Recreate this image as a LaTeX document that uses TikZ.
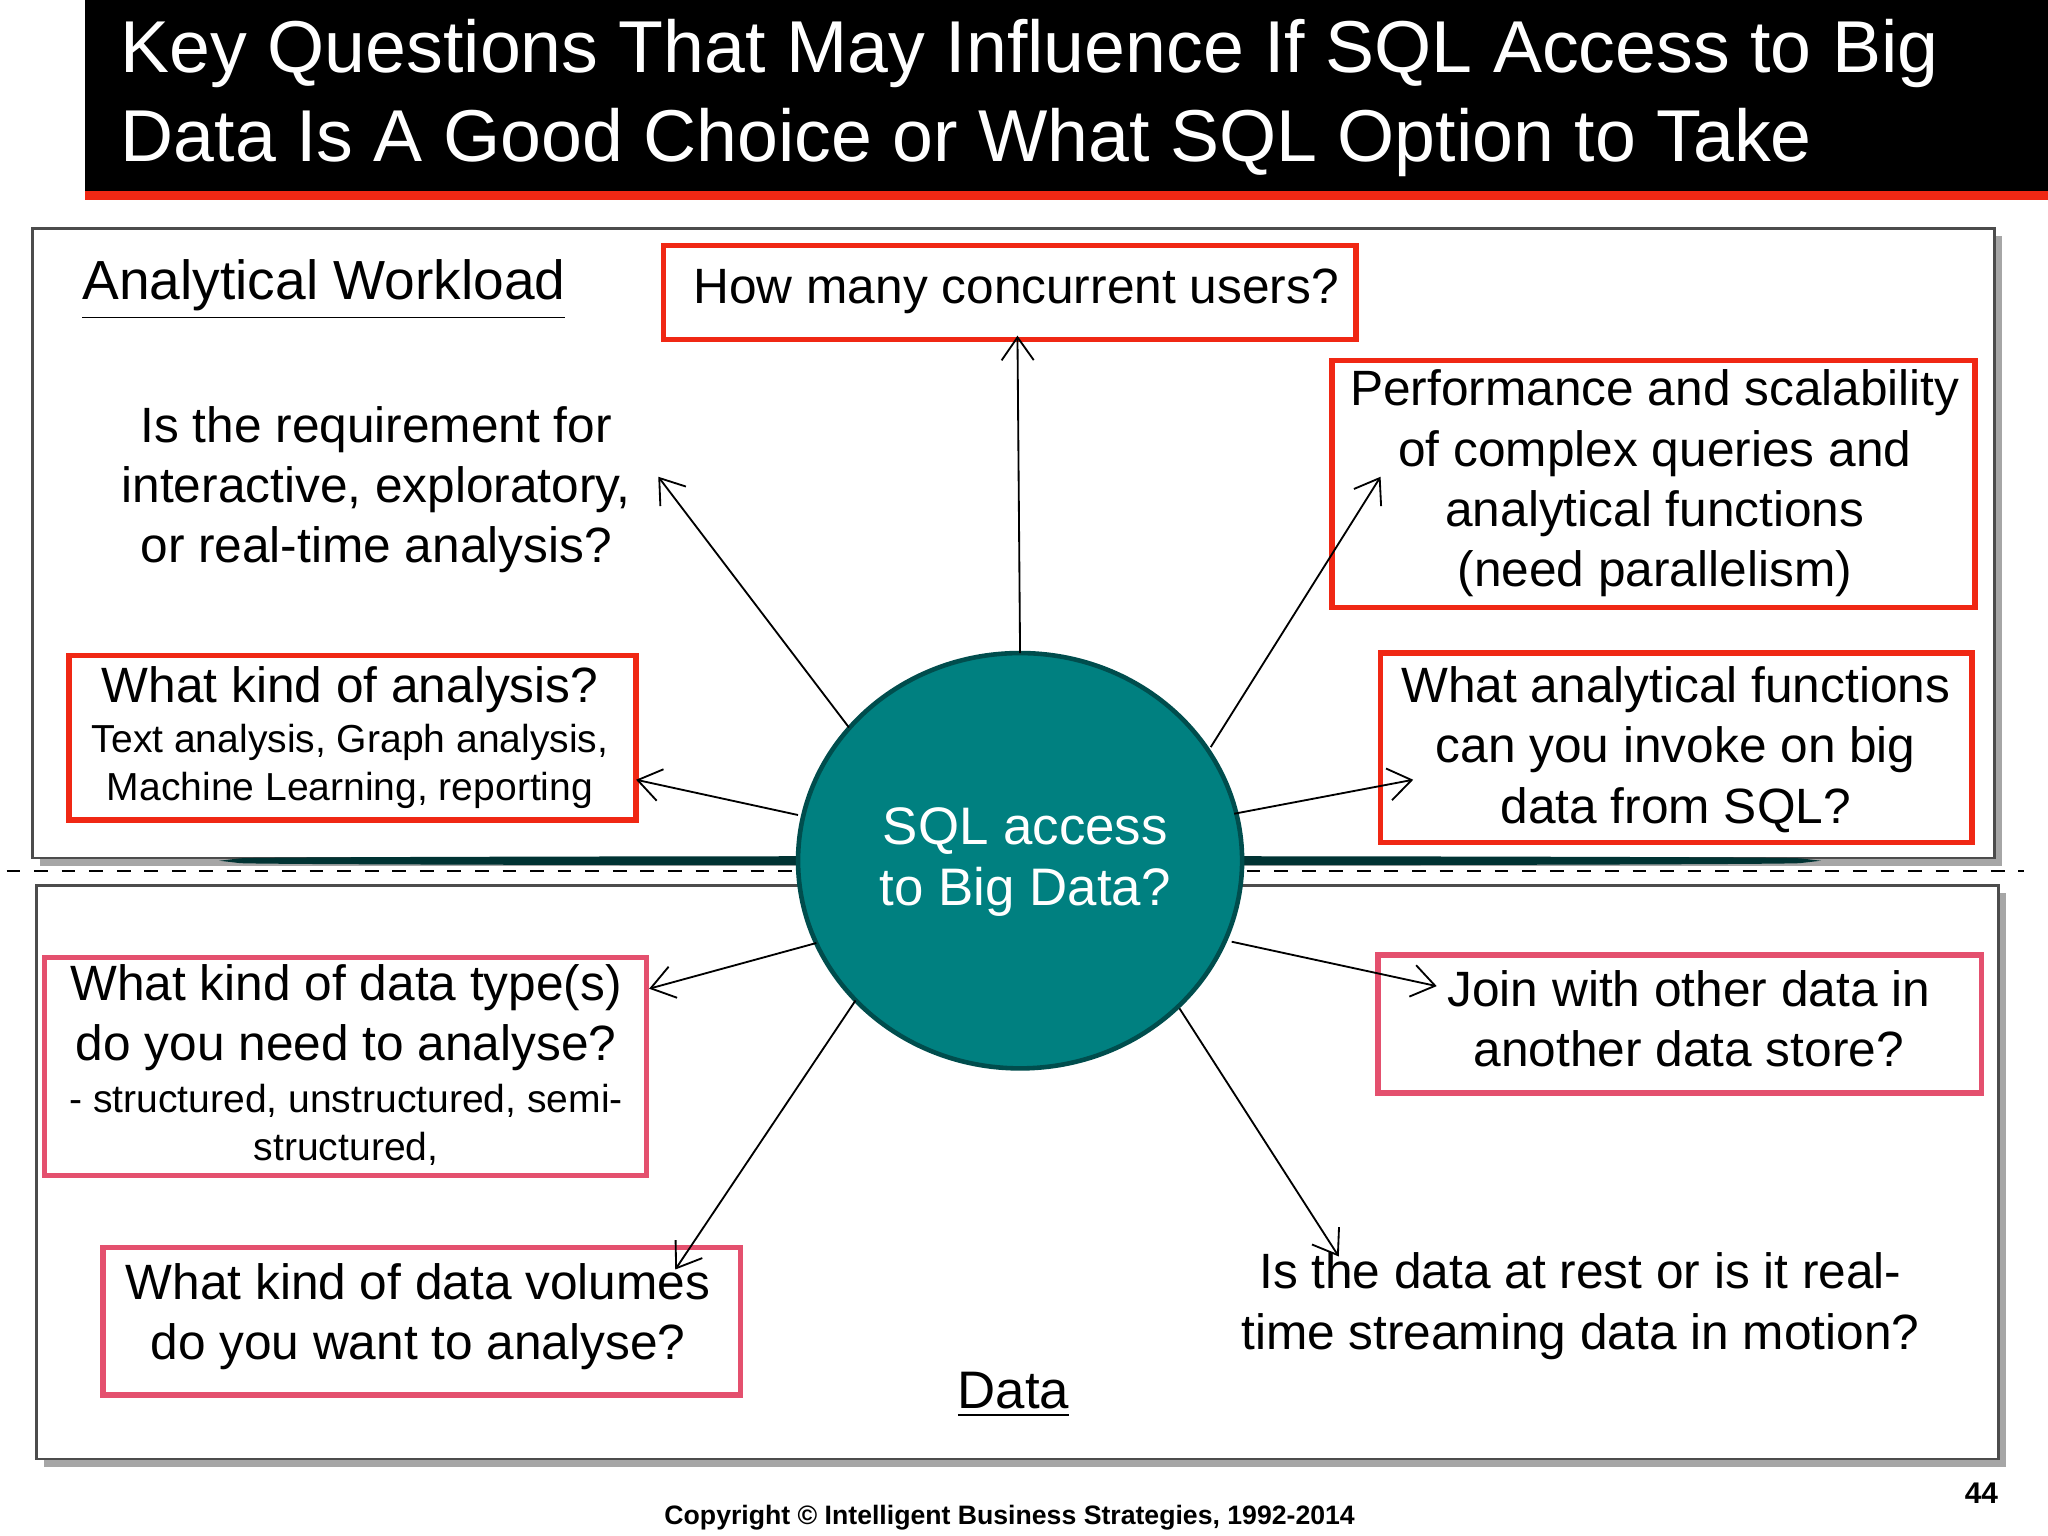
\documentclass[tikz,border=0pt]{standalone}
\usepackage{fontspec}
\setmainfont{Liberation Sans}
\usetikzlibrary{arrows.meta,shapes.geometric}
\definecolor{boxred}{RGB}{240,40,20}
\definecolor{boxpink}{RGB}{228,80,110}
\definecolor{teal1}{RGB}{0,128,128}
\begin{document}
\begin{tikzpicture}[x=0.01cm,y=-0.01cm,
  qbox/.style={draw=boxred,line width=1.2pt,inner sep=0pt},
  pbox/.style={draw=boxpink,line width=1.2pt,inner sep=0pt},
  qtext/.style={font=\fontsize{10.8}{13.1}\selectfont,align=center},
  small/.style={font=\fontsize{8.5}{10.5}\selectfont,align=center},
  panel/.style={draw=black!70,line width=0.6pt,fill=white},
  arr/.style={-{Straight Barb[length=5pt,width=7pt]},line width=0.4pt}]
\useasboundingbox (0,0) rectangle (1568,1176);
% title
\fill[black] (65,0) rectangle (1568,146);
\fill[boxred] (65,146) rectangle (1568,153);
\node[text=white,anchor=west,align=left,font=\fontsize{16}{19.4}\selectfont] (title) at (80,75) {Key Questions That May Influence If SQL Access to Big\\Data Is A Good Choice or What SQL Option to Take};
% panels
\fill[black!35] (31,181) rectangle (1533,663);
\draw[panel] (25,175) rectangle (1527,657);
\fill[black!35] (34,684) rectangle (1536,1123);
\draw[panel] (28,678) rectangle (1530,1117);
\draw[dashed,line width=0.5pt] (5,667) -- (1550,667);
% circle
\node[ellipse,draw=black!60!teal1,line width=1pt,fill=teal1,minimum width=340\pgflinewidth,inner sep=0pt,text=white,qtext,font=\fontsize{11.5}{13.1}\selectfont] (c) at (781,659) {};
\fill[teal1,draw=black!40!teal1,line width=1pt] (781,659) ellipse [x radius=170,y radius=159];
\node[text=white,align=center,font=\fontsize{11.5}{13.3}\selectfont] (ct) at (785,660) {SQL access\\to Big Data?};
% boxes
\draw[qbox] (508,188) rectangle (1038,260);
\node[qtext] (b1) at (778,223) {How many concurrent users?};
\draw[qbox] (1020,276) rectangle (1512,465);
\node[qtext] (b2) at (1267,370) {Performance and scalability\\of complex queries and\\analytical functions\\(need parallelism)};
\draw[qbox] (1057,500) rectangle (1510,645);
\node[qtext] (b3) at (1283,574) {What analytical functions\\can you invoke on big\\data from SQL?};
\draw[qbox] (53,502) rectangle (487,628);
\node[qtext] (b4) at (268,528) {What kind of analysis?};
\node[small] (b4s) at (268,587) {Text analysis, Graph analysis,\\Machine Learning, reporting};
\draw[pbox] (34,733) rectangle (495,900);
\node[qtext] (b5) at (265,779) {What kind of data type(s)\\do you need to analyse?};
\node[small] (b5s) at (265,861) {- structured, unstructured, semi-\\structured,};
\draw[pbox] (1055,731) rectangle (1517,837);
\node[qtext] (b6) at (1293,780) {Join with other data in\\another data store?};
\draw[pbox] (79,955) rectangle (567,1068);
\node[qtext] (b7) at (320,1008) {What kind of data volumes\\do you want to analyse?};
% plain texts
\node[font=\fontsize{12}{14}\selectfont] (aw) at (248,222) {\underline{Analytical Workload}};
\node[qtext] (req) at (288,375) {Is the requirement for\\interactive, exploratory,\\or real-time analysis?};
\node[qtext] (rest) at (1210,1000) {Is the data at rest or is it real-\\time streaming data in motion?};
\node[font=\fontsize{11.5}{14}\selectfont] (dt) at (776,1068) {\underline{Data}};
\node[font=\bfseries\fontsize{5.8}{7}\selectfont] (copy) at (773,1162) {Copyright © Intelligent Business Strategies, 1992-2014};
\node[font=\bfseries\fontsize{6.5}{8}\selectfont] (pg) at (1517,1143) {44};
% arrows
\coordinate (s1) at (781,500); \coordinate (e1) at (779,257);
\coordinate (s2) at (927,572); \coordinate (e2) at (1057,365);
\coordinate (s3) at (945,623); \coordinate (e3) at (1082,597);
\coordinate (s4) at (650,557); \coordinate (e4) at (504,365);
\coordinate (s5) at (611,624); \coordinate (e5) at (487,597);
\coordinate (s6) at (625,722); \coordinate (e6) at (497,757);
\coordinate (s7) at (655,766); \coordinate (e7) at (517,972);
\coordinate (s8) at (943,721); \coordinate (e8) at (1100,755);
\coordinate (s9) at (903,772); \coordinate (e9) at (1025,962);
\foreach \i in {1,...,9} {\draw[arr] (s\i) -- (e\i);}
\end{tikzpicture}
\end{document}
